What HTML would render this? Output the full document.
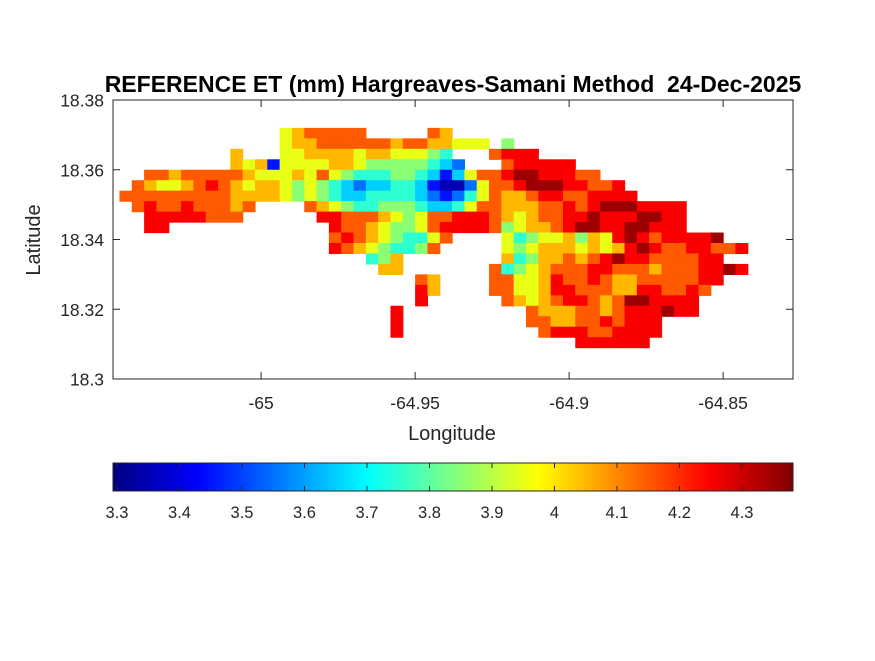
<!DOCTYPE html>
<html><head><meta charset="utf-8"><style>
body{margin:0;background:#fff}
svg text{font-family:"Liberation Sans",sans-serif}
</style></head><body>
<svg id="fig" width="875" height="656" xmlns="http://www.w3.org/2000/svg">
<defs>
<linearGradient id="jet" x1="0" x2="1" y1="0" y2="0">
<stop offset="0" stop-color="#000080"/><stop offset="0.125" stop-color="#0000ff"/><stop offset="0.375" stop-color="#00ffff"/><stop offset="0.625" stop-color="#ffff00"/><stop offset="0.875" stop-color="#ff0000"/><stop offset="1" stop-color="#800000"/>
</linearGradient>
<clipPath id="axclip"><rect x="113" y="100" width="680" height="279"/></clipPath>
</defs>
<rect x="0" y="0" width="875" height="656" fill="#fff"/>
<text x="453" y="92" text-anchor="middle" font-size="23" font-weight="bold" xml:space="preserve" style="white-space:pre">REFERENCE ET (mm) Hargreaves-Samani Method  24-Dec-2025</text>
<g id="cells" clip-path="url(#axclip)"></g>
<g id="axes"></g>
<text x="452" y="440" text-anchor="middle" font-size="20" fill="#262626">Longitude</text>
<text x="40" y="240" text-anchor="middle" font-size="20" fill="#262626" transform="rotate(-90 40 240)">Latitude</text>
<rect x="113" y="463" width="680" height="28" fill="url(#jet)"/>
<g id="cbar"></g>
</svg>
<script>
const lonTicks=[-65,-64.95,-64.9,-64.85];
const lonTickLabels=["-65","-64.95","-64.9","-64.85"];
const latTicks=[18.30,18.32,18.34,18.36,18.38];
const latTickLabels=["18.3","18.32","18.34","18.36","18.38"];
const cbarTicks=[3.3,3.4,3.5,3.6,3.7,3.8,3.9,4.0,4.1,4.2,4.3];
const cbarTickLabels=["3.3","3.4","3.5","3.6","3.7","3.8","3.9","4","4.1","4.2","4.3"];
const gridLon0=-65.046, gridLonStep=0.004, gridLat0=18.372, gridLatStep=0.003;
// each char = ET level: value = 3.35 + level*0.1 ; '.' = no data
const gridRows=[
".............6788888.....87.........................",
".............67788888878877666.5....................",
".........7...66777767766654...8999..................",
".........7671666677655555432...899999...............",
"..887888887666768654445543136889aa99988.............",
".87667898767765654323344310026889aaa99889...........",
"888888888777765654334444321246877899889999..........",
".8988988878....876544555433468877788989aaa9999......",
"..99999888......9988876568899987678899a999aa99......",
"..99.............98876556899998567789aa99aa999......",
".................8987654468....6456675769a989999a...",
".................987654458.....65677767679a98899889..",
"....................457........745778789a99888899...",
".....................77.......8456788899888788899a9.",
"........................87....8866798898778888899...",
"........................97....886679988877998898....",
"........................9......8767899878aa9999.....",
"......................9..........87778878999a99.....",
"......................9..........88778898999........",
"......................9...........8999889999........",
".....................................999999.........",
];
const LON_MIN=-65.0481, LON_MAX=-64.8273, LAT_MIN=18.30, LAT_MAX=18.38;
const AX_X=113, AX_Y=100, AX_W=680, AX_H=279;
const CB_X=113, CB_W=680, CB_MIN=3.2936, CB_MAX=4.3816;
const xOf=lon=>AX_X+(lon-LON_MIN)/(LON_MAX-LON_MIN)*AX_W;
const yOf=lat=>AX_Y+(LAT_MAX-lat)/(LAT_MAX-LAT_MIN)*AX_H;
const cbX=v=>CB_X+(v-CB_MIN)/(CB_MAX-CB_MIN)*CB_W;
function jet(t){t=Math.max(0,Math.min(1,t));
 const f=(a)=>Math.max(0,Math.min(1,1.5-Math.abs(4*t-a)));
 return `rgb(${Math.round(f(3)*255)},${Math.round(f(2)*255)},${Math.round(f(1)*255)})`;}
const NS="http://www.w3.org/2000/svg";
function mk(tag,attrs,parent){const e=document.createElementNS(NS,tag);for(const k in attrs)e.setAttribute(k,attrs[k]);parent.appendChild(e);return e;}
const cells=document.getElementById('cells');
gridRows.forEach((row,r)=>{
 for(let c=0;c<row.length;c++){const ch=row[c];if(ch==='.')continue;
  const v=3.35+parseInt(ch,16)*0.1;
  const lonA=gridLon0+c*gridLonStep, latA=gridLat0-r*gridLatStep;
  const x0=xOf(lonA),x1=xOf(lonA+gridLonStep),y0=yOf(latA),y1=yOf(latA-gridLatStep);
  const rc=mk('rect',{x:x0.toFixed(2),y:y0.toFixed(2),width:(x1-x0+0.6).toFixed(2),height:(y1-y0+0.6).toFixed(2),fill:jet((v-CB_MIN)/(CB_MAX-CB_MIN))},cells);
  
  
 }});
const ax=document.getElementById('axes');
const box=mk('rect',{x:AX_X,y:AX_Y,width:AX_W,height:AX_H,fill:'none',stroke:'#262626','stroke-width':1},ax);


lonTicks.forEach((t,i)=>{const x=xOf(t);
 mk('line',{x1:x,x2:x,y1:AX_Y+AX_H,y2:AX_Y+AX_H-7,stroke:'#262626'},ax);
 mk('line',{x1:x,x2:x,y1:AX_Y,y2:AX_Y+7,stroke:'#262626'},ax);
 const tx=mk('text',{x:x,y:409,'text-anchor':'middle','font-size':17.5,fill:'#262626'},ax);tx.textContent=lonTickLabels[i];
 
 });
latTicks.forEach((t,i)=>{const y=yOf(t);
 mk('line',{x1:AX_X,x2:AX_X+7,y1:y,y2:y,stroke:'#262626'},ax);
 mk('line',{x1:AX_X+AX_W,x2:AX_X+AX_W-7,y1:y,y2:y,stroke:'#262626'},ax);
 const tx=mk('text',{x:104,y:y+6.5,'text-anchor':'end','font-size':17.5,fill:'#262626'},ax);tx.textContent=latTickLabels[i];
 
 });
const cb=document.getElementById('cbar');
mk('rect',{x:113,y:463,width:680,height:28,fill:'none',stroke:'#262626'},cb);
cbarTicks.forEach((t,i)=>{const x=cbX(t);
 mk('line',{x1:x,x2:x,y1:491,y2:486,stroke:'#262626'},cb);
 mk('line',{x1:x,x2:x,y1:463,y2:468,stroke:'#262626'},cb);
 const tx=mk('text',{x:x,y:518,'text-anchor':'middle','font-size':16.5,fill:'#262626'},cb);tx.textContent=cbarTickLabels[i];
 
 });
</script>
</body></html>
